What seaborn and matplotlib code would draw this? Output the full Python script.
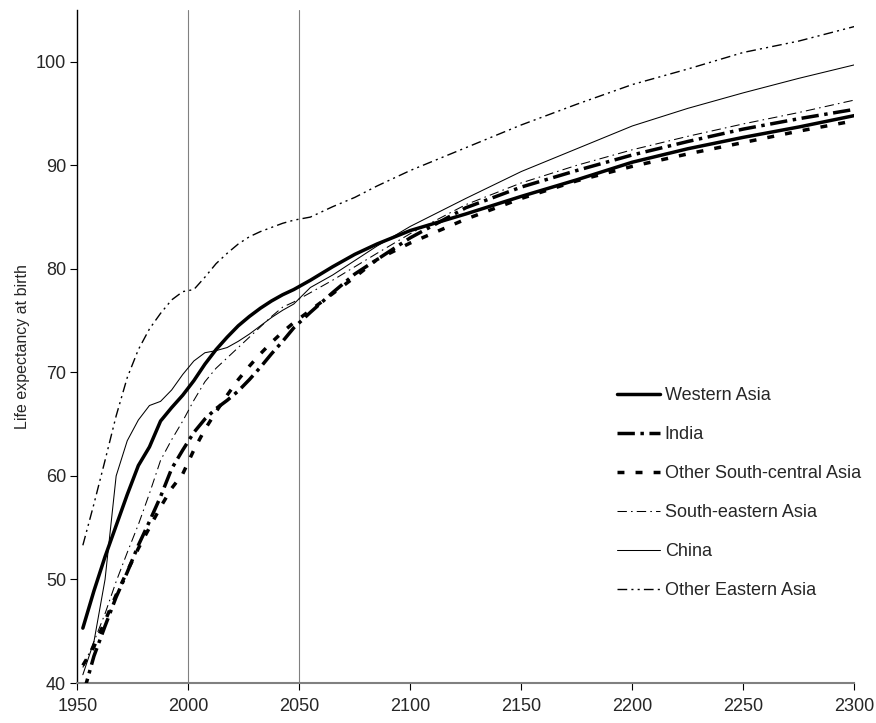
import numpy as np
import pandas as pd
import matplotlib
matplotlib.use("Agg")
import matplotlib.pyplot as plt
import seaborn as sns

years = [1952.5, 1957.5, 1962.5, 1967.5, 1972.5, 1977.5, 1982.5, 1987.5, 1992.5, 1997.5,
         2002.5, 2007.5, 2012.5, 2017.5, 2022.5, 2027.5, 2032.5, 2037.5, 2042.5, 2047.5,
         2055, 2065, 2075, 2085, 2100, 2125, 2150, 2175, 2200, 2225, 2250, 2275, 2300]

western_asia = [45.3, 48.9, 52.2, 55.2, 58.2, 61.0, 62.8, 65.3, 66.6, 67.8,
                69.2, 70.8, 72.2, 73.4, 74.5, 75.4, 76.2, 76.9, 77.5, 78.0,
                78.9, 80.2, 81.4, 82.4, 83.7, 85.3, 87.0, 88.6, 90.3, 91.6, 92.7, 93.7, 94.8]
india = [38.8, 42.6, 45.5, 48.3, 50.7, 53.3, 55.6, 58.0, 60.7, 62.5,
         64.2, 65.5, 66.5, 67.3, 68.2, 69.3, 70.5, 71.8, 73.0, 74.3,
         75.8, 77.7, 79.5, 80.9, 83.0, 85.9, 87.9, 89.5, 91.0, 92.3, 93.5, 94.5, 95.4]
other_sc_asia = [41.7, 43.5, 46.0, 48.5, 50.8, 53.0, 55.0, 57.0, 58.8, 60.2,
                 62.5, 64.5, 66.2, 67.8, 69.3, 70.6, 71.8, 72.9, 73.9, 74.8,
                 76.0, 77.6, 79.2, 80.9, 82.5, 84.8, 86.8, 88.5, 89.9, 91.1, 92.2, 93.3, 94.3]
se_asia = [41.5, 44.0, 46.7, 49.8, 52.6, 55.3, 58.3, 61.5, 63.5, 65.3,
           67.3, 69.1, 70.4, 71.4, 72.4, 73.4, 74.4, 75.4, 76.3, 76.8,
           77.7, 78.9, 80.2, 81.5, 83.4, 86.2, 88.3, 90.0, 91.5, 92.8, 94.0, 95.1, 96.3]
china = [40.8, 44.0, 50.0, 60.0, 63.4, 65.4, 66.8, 67.2, 68.3, 69.8,
         71.1, 71.9, 72.1, 72.4, 73.0, 73.7, 74.5, 75.3, 76.0, 76.6,
         78.2, 79.4, 80.8, 82.2, 84.1, 86.8, 89.4, 91.6, 93.8, 95.5, 97.0, 98.4, 99.7]
other_e_asia = [53.3, 57.3, 61.5, 65.8, 69.5, 72.2, 74.2, 75.7, 77.0, 77.8,
                78.0, 79.2, 80.5, 81.5, 82.4, 83.1, 83.6, 84.0, 84.4, 84.7,
                85.0, 86.0, 86.9, 88.0, 89.5, 91.7, 93.9, 95.9, 97.8, 99.3, 100.9, 102.0, 103.4]

labels = ["Western Asia", "India", "Other South-central Asia",
          "South-eastern Asia", "China", "Other Eastern Asia"]
series = [western_asia, india, other_sc_asia, se_asia, china, other_e_asia]

x_ticks = [1950, 2000, 2050, 2100, 2150, 2200, 2250, 2300]
y_ticks = [40, 50, 60, 70, 80, 90, 100]
ref_years = [2000, 2050]

styles = {
    "Western Asia": dict(lw=2.5, ls="-"),
    "India": dict(lw=2.5, ls=(0, (5, 1.6, 1, 1.6))),
    "Other South-central Asia": dict(lw=2.5, ls=(0, (2, 3.2))),
    "South-eastern Asia": dict(lw=0.75, ls=(0, (9, 4, 1.5, 4))),
    "China": dict(lw=0.75, ls="-"),
    "Other Eastern Asia": dict(lw=1.0, ls=(0, (7, 3, 1.5, 3, 1.5, 3))),
}

sns.set_theme(style="white")
plt.rcParams["font.family"] = ["Liberation Sans", "DejaVu Sans"]

fig = plt.figure(figsize=(8.76, 7.23), dpi=100)
ax = fig.add_axes([77.3 / 876, 1 - 683 / 723, (854.3 - 77.3) / 876, (683 - 10) / 723])

for yr in ref_years:
    ax.axvline(yr, color="#808080", lw=0.8, zorder=1)

for lab, vals in zip(labels, series):
    df = pd.DataFrame({"year": years, "value": vals})
    st = styles[lab]
    sns.lineplot(data=df, x="year", y="value", ax=ax, color="black",
                 linewidth=st["lw"], linestyle=st["ls"], label=lab, zorder=3)

ax.set_xlim(1950, 2300)
ax.set_ylim(40, 105)
ax.set_xticks(x_ticks)
ax.set_yticks(y_ticks)
ax.set_xlabel("")
ax.set_ylabel("Life expectancy at birth", fontsize=11.5, labelpad=4)
ax.tick_params(axis="both", labelsize=13, length=5, width=0.8, color="black",
               direction="out", bottom=True, left=True)
ax.tick_params(axis="x", pad=6)
ax.tick_params(axis="y", pad=3)
for s in ["top", "right"]:
    ax.spines[s].set_visible(False)
ax.spines["left"].set_color("black")
ax.spines["left"].set_linewidth(1.0)
ax.spines["bottom"].set_color("#808080")
ax.spines["bottom"].set_linewidth(1.5)

leg = ax.legend(loc="upper left", bbox_to_anchor=(617 / 876, 1 - 387 / 723),
                bbox_transform=fig.transFigure, frameon=False, fontsize=13,
                handlelength=2.4, handletextpad=0.25, labelspacing=1.22,
                borderpad=0, borderaxespad=0)

fig.savefig("out.png", dpi=100, facecolor="white")
